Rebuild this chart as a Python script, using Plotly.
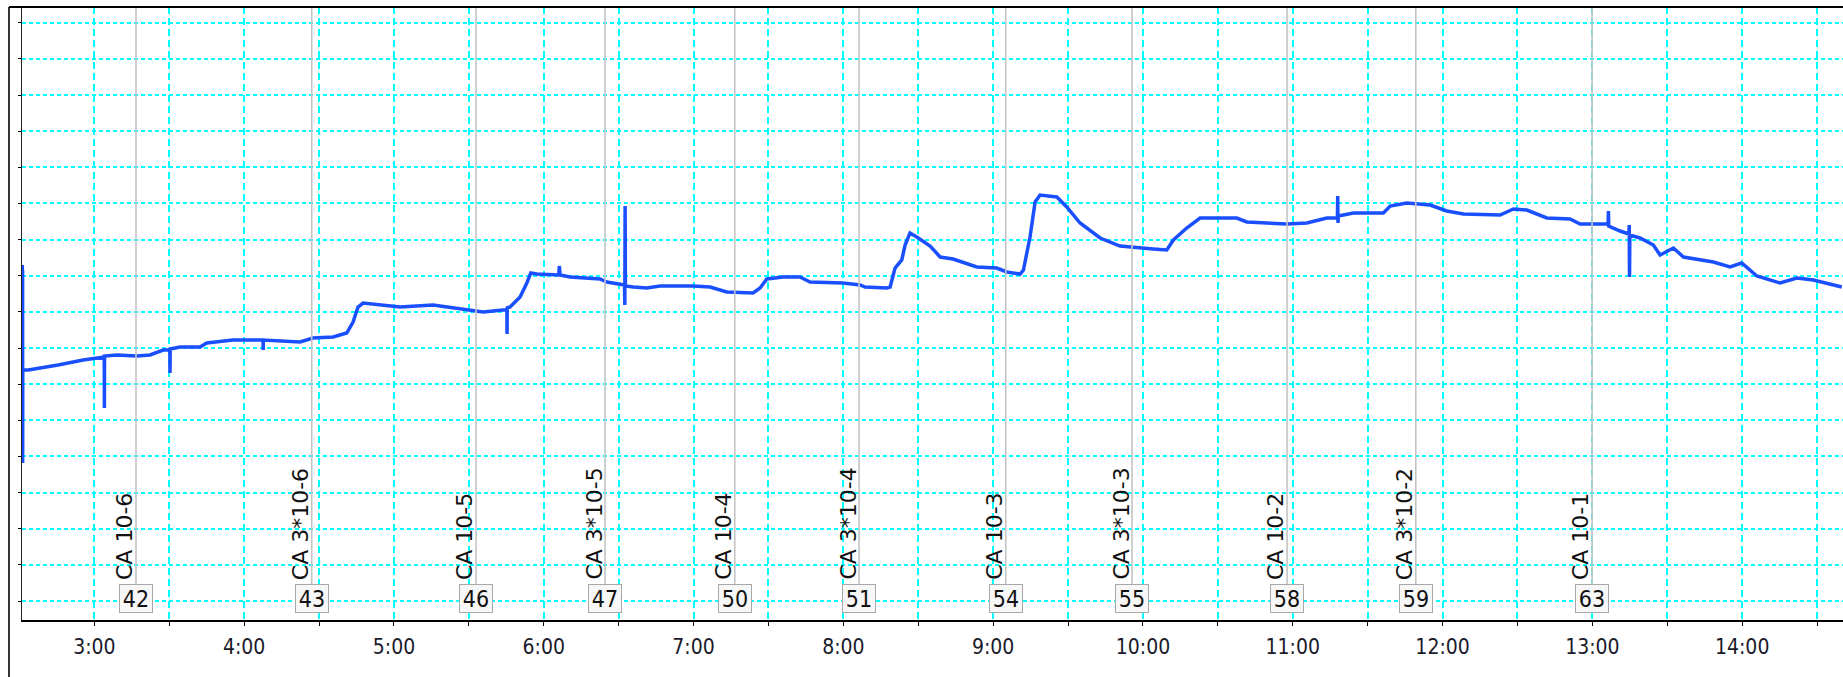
import plotly.graph_objects as go

# ---- data (time in hours, signal in arbitrary units) ----
time_h = [2.518, 2.519, 2.5195, 2.520, 2.5205, 2.521, 2.5215, 2.522,
          2.559, 2.704, 2.758, 2.925, 3.038, 3.066, 3.067, 3.068, 3.150, 3.283, 3.372, 3.459,
          3.504, 3.505, 3.506, 3.572, 3.706, 3.750, 3.926, 4.126, 4.127, 4.128, 4.373, 4.460,
          4.594, 4.685, 4.727, 4.760, 4.794, 5.041, 5.261, 5.441, 5.595, 5.728, 5.754, 5.755,
          5.756, 5.775, 5.842, 5.887, 5.913, 5.953, 6.100, 6.104, 6.109, 6.176, 6.376, 6.421,
          6.509, 6.539, 6.541, 6.543, 6.545, 6.598, 6.688, 6.776, 6.997, 7.110, 7.222, 7.397,
          7.444, 7.489, 7.598, 7.710, 7.778, 7.998, 8.112, 8.145, 8.290, 8.312, 8.345, 8.390,
          8.412, 8.445, 8.490, 8.579, 8.646, 8.732, 8.891, 9.024, 9.091, 9.180, 9.202, 9.246,
          9.280, 9.313, 9.425, 9.491, 9.580, 9.714, 9.847, 10.069, 10.159, 10.203, 10.292,
          10.381, 10.626, 10.693, 10.960, 11.094, 11.227, 11.298, 11.300, 11.302, 11.304,
          11.405, 11.605, 11.650, 11.761, 11.917, 12.028, 12.139, 12.384, 12.473, 12.562,
          12.696, 12.851, 12.918, 13.096, 13.105, 13.107, 13.109, 13.185, 13.230, 13.244,
          13.246, 13.248, 13.250, 13.318, 13.407, 13.452, 13.541, 13.608, 13.808, 13.919,
          13.997, 14.098, 14.253, 14.365, 14.475, 14.665]
signal = [300, 355, 298, 352, 300, 350, 157, 250,
          250, 253, 255, 260, 263, 263, 212, 264, 265, 264, 265, 270,
          270, 247, 271, 273, 273, 277, 280, 280, 270, 280, 278, 282,
          283, 287, 298, 313, 317, 313, 315, 311, 308, 310, 310, 286,
          312, 313, 323, 337, 347, 346, 345, 354, 345, 343, 341, 338,
          336, 335, 315, 414, 334, 333, 332, 334, 334, 333, 328, 327,
          332, 341, 343, 343, 338, 337, 335, 333, 332, 333, 352, 360,
          375, 387, 383, 374, 363, 361, 353, 352, 348, 346, 350, 383,
          418, 425, 423, 413, 397, 382, 374, 371, 370, 380, 392,
          402, 402, 398, 396, 397, 402, 402, 424, 397, 404,
          407, 407, 414, 417, 415, 409, 406, 405, 411, 410,
          402, 401, 396, 396, 396, 409, 394, 389, 386, 386,
          395, 343, 385, 382, 375, 365, 372, 363, 358, 353,
          357, 344, 337, 342, 340, 333]

event_time_h = [3.278, 4.451, 5.548, 6.409, 7.275, 8.105, 9.084, 9.927, 10.962, 11.821, 12.998]
event_label = ["CA 10-6", "CA 3*10-6", "CA 10-5", "CA 3*10-5", "CA 10-4", "CA 3*10-4",
               "CA 10-3", "CA 3*10-3", "CA 10-2", "CA 3*10-2", "CA 10-1"]
event_number = [42, 43, 46, 47, 50, 51, 54, 55, 58, 59, 63]

tick_vals = [3.0 + 0.5 * i for i in range(24)]
tick_text = [f"{int(v)}:00" if v == int(v) else "" for v in tick_vals]

W, H = 1843, 677
ML, MR, MT, MB = 22, 0, 7, 57
PH = H - MT - MB
PW = W - ML - MR

NARROW = "Liberation Sans Narrow, DejaVu Sans Condensed, Arial Narrow, sans-serif"

fig = go.Figure()
fig.add_trace(go.Scatter(x=time_h, y=signal, mode="lines",
                         line=dict(color="#1a4fff", width=3.5), hoverinfo="skip",
                         showlegend=False))

shapes = []
annotations = []
box_top_paper = (PH + MT - 584) / PH  # paper y of box top
box_mid_paper = (PH + MT - 598.5) / PH
for t, lab, num in zip(event_time_h, event_label, event_number):
    shapes.append(dict(type="line", xref="x", yref="paper", x0=t, x1=t,
                       y0=box_top_paper, y1=1, line=dict(color="#c4c4c4", width=1.6),
                       layer="above"))
    annotations.append(dict(x=t, y=(PH + MT - 582) / PH, xref="x", yref="paper",
                            text=lab, textangle=-90, showarrow=False,
                            xanchor="right", yanchor="bottom", xshift=3,
                            font=dict(family="DejaVu Sans, Verdana, sans-serif",
                                      size=22, color="#111111")))
    annotations.append(dict(x=t, y=box_mid_paper, xref="x", yref="paper",
                            text=str(num), showarrow=False,
                            xanchor="center", yanchor="middle",
                            width=32, height=27, borderpad=0, borderwidth=1,
                            bordercolor="#a8a8a8", bgcolor="#f7f7f7",
                            font=dict(family=NARROW, size=23, color="#111111")))

# outer frame lines
fx = (9 - ML) / PW
shapes.append(dict(type="line", xref="paper", yref="paper", x0=fx, x1=1.0, y0=1, y1=1,
                   line=dict(color="#000000", width=2)))
shapes.append(dict(type="line", xref="paper", yref="paper", x0=fx, x1=fx, y0=1,
                   y1=-(MB + 2) / PH, line=dict(color="#000000", width=1.6)))

fig.update_layout(
    width=W, height=H,
    margin=dict(l=ML, r=MR, t=MT, b=MB),
    paper_bgcolor="white", plot_bgcolor="white",
    shapes=shapes, annotations=annotations,
    xaxis=dict(range=[2.517, 14.673], tickmode="array", tickvals=tick_vals,
               ticktext=tick_text, showgrid=True, gridcolor="#00ffff", gridwidth=1.5,
               griddash="7px,4px", showline=True, linecolor="#000000", linewidth=1.6,
               ticks="outside", ticklen=4, tickcolor="#000000", zeroline=False,
               ticklabelstandoff=3,
               tickfont=dict(family=NARROW, size=21, color="#1a1a2a")),
    yaxis=dict(range=[0, PH], tick0=19, dtick=36.14, showgrid=True, gridcolor="#00ffff",
               gridwidth=1.5, griddash="4px,3px", showline=True, linecolor="#222222",
               linewidth=1, ticks="outside", ticklen=3, tickcolor="#000000",
               showticklabels=False, zeroline=False),
)

fig.write_html("out.html", config={"displayModeBar": False},
               post_script="document.body.style.margin='0px';document.body.style.overflow='hidden';")
